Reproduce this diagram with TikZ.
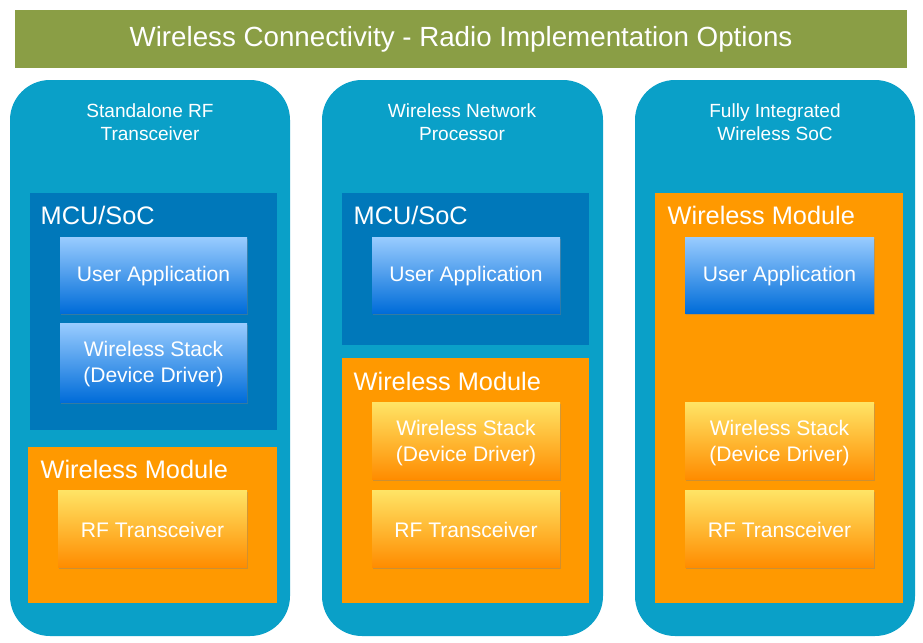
\documentclass[tikz,border=0pt]{standalone}
\usepackage{fontspec}
\setmainfont{Liberation Sans}
\usetikzlibrary{shadows}
\definecolor{olive}{HTML}{8A9E45}
\definecolor{col}{HTML}{0AA0C8}
\definecolor{mcu}{HTML}{0078BA}
\definecolor{modc}{HTML}{FF9900}
\tikzset{
 x=0.75pt,y=-0.75pt,
 colbox/.style={fill=col,draw=none,rounded corners=30pt},
 mcubox/.style={fill=mcu,draw=none},
 modbox/.style={fill=modc,draw=none},
 bluebtn/.style={draw=none,top color=cyan!50!blue!40,bottom color=blue!50!cyan!85!black,drop shadow={shadow xshift=1pt,shadow yshift=-1.5pt,opacity=0.4}},
 orbtn/.style={draw=none,top color=orange!35!yellow!60,bottom color=orange!90!yellow,drop shadow={shadow xshift=1pt,shadow yshift=-1.5pt,opacity=0.4}},
 btxt/.style={text=white,font=\fontsize{15.8}{19}\selectfont,align=center},
 hdr/.style={text=white,font=\fontsize{14.3}{17}\selectfont,align=center},
 lbl/.style={text=white,font=\fontsize{19}{22}\selectfont,anchor=west},
}
\begin{document}
\begin{tikzpicture}
\useasboundingbox (0,0) rectangle (923,642);
\fill[white] (0,0) rectangle (923,642);
\node[fill=olive,minimum width=892*0.75pt,minimum height=58*0.75pt,text=white,font=\fontsize{20.8}{24}\selectfont] (title) at (461,39) {Wireless Connectivity - Radio Implementation Options};
% columns
\filldraw[colbox] (10,80) rectangle (290,636);
\filldraw[colbox] (322,80) rectangle (603,636);
\filldraw[colbox] (635,80) rectangle (915,636);
\node[hdr] (h1) at (150,122) {Standalone RF\\Transceiver};
\node[hdr] (h2) at (462,122) {Wireless Network\\Processor};
\node[hdr] (h3) at (775,122) {Fully Integrated\\Wireless SoC};
% col1
\fill[mcubox] (30,193) rectangle (277,430);
\node[lbl] (m1) at (36,215) {MCU/SoC};
\shade[bluebtn] (60,237) rectangle (247,313);
\node[btxt] (u1) at (153.5,276) {User Application};
\shade[bluebtn] (60,323) rectangle (247,402);
\node[btxt] (s1) at (153.5,364) {Wireless Stack\\(Device Driver)};
\fill[modbox] (28,447) rectangle (277,603);
\node[lbl] (w1) at (36,469) {Wireless Module};
\shade[orbtn] (58,490) rectangle (247,567);
\node[btxt] (r1) at (152.5,530) {RF Transceiver};
% col2
\fill[mcubox] (342,193) rectangle (589,345);
\node[lbl] (m2) at (349,215) {MCU/SoC};
\shade[bluebtn] (372,237) rectangle (560,313);
\node[btxt] (u2) at (466,276) {User Application};
\fill[modbox] (342,358) rectangle (589,603);
\node[lbl] (w2) at (349,381) {Wireless Module};
\shade[orbtn] (372,402) rectangle (560,479);
\node[btxt] (s2) at (466,443) {Wireless Stack\\(Device Driver)};
\shade[orbtn] (372,490) rectangle (560,567);
\node[btxt] (r2) at (466,530) {RF Transceiver};
% col3
\fill[modbox] (655,193) rectangle (903,603);
\node[lbl] (w3) at (663,215) {Wireless Module};
\shade[bluebtn] (685,237) rectangle (874,313);
\node[btxt] (u3) at (779.5,276) {User Application};
\shade[orbtn] (685,402) rectangle (874,479);
\node[btxt] (s3) at (779.5,443) {Wireless Stack\\(Device Driver)};
\shade[orbtn] (685,490) rectangle (874,567);
\node[btxt] (r3) at (779.5,530) {RF Transceiver};
\end{tikzpicture}
\end{document}
